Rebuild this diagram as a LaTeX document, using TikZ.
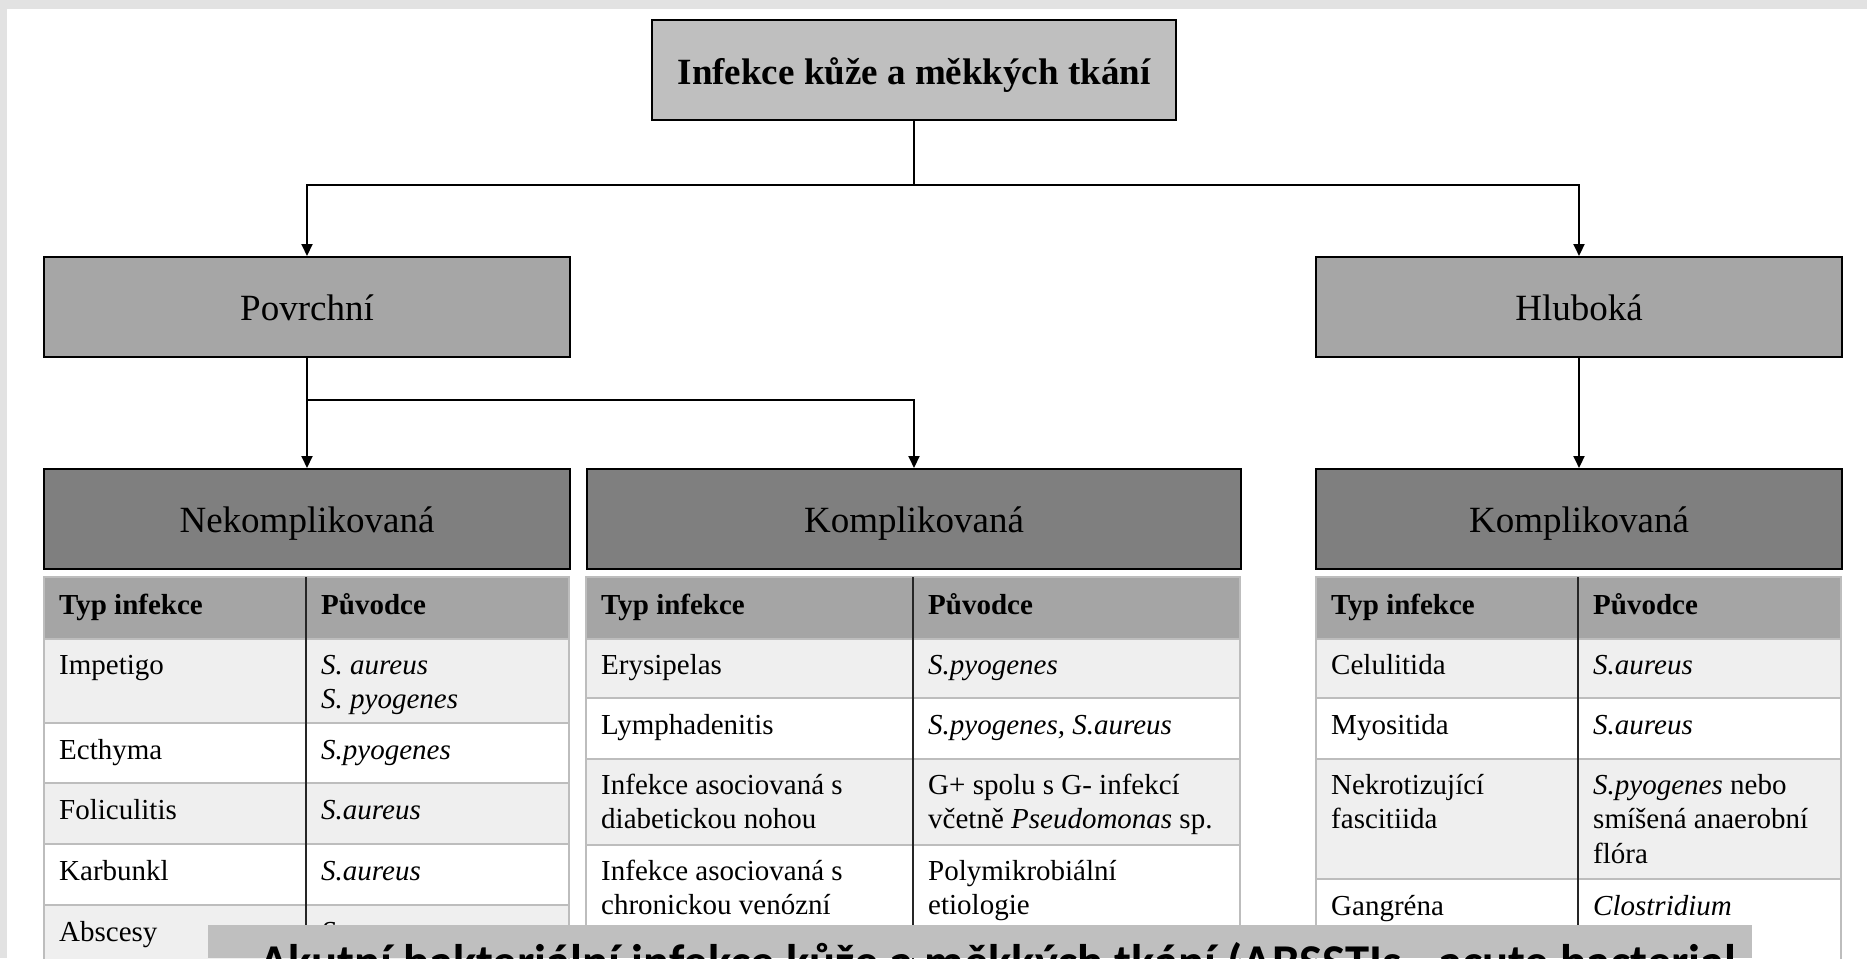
\documentclass[tikz,border=0pt]{standalone}
\usepackage{fontspec}
\setmainfont{Liberation Serif}
\newfontfamily\bannerfont{Carlito}
\usetikzlibrary{arrows.meta}
\definecolor{topgrey}{HTML}{BFBFBF}
\definecolor{midgrey}{HTML}{A6A6A6}
\definecolor{darkgrey}{HTML}{7F7F7F}
\definecolor{hdrgrey}{HTML}{A5A5A5}
\definecolor{rowgrey}{HTML}{EFEFEF}
\definecolor{linegrey}{HTML}{BDBDBD}
\definecolor{bggrey}{HTML}{E2E2E2}
\definecolor{bannergrey}{HTML}{BFBFBF}
\newcommand{\twol}[2]{\begin{tabular}[t]{@{}l@{}}#1\\#2\end{tabular}}
\newcommand{\threel}[3]{\begin{tabular}[t]{@{}l@{}}#1\\#2\\#3\end{tabular}}
\tikzset{
 box/.style={draw=black, line width=2pt, inner sep=0pt, minimum height=100pt, text height=33pt, text depth=7pt, font=\fontsize{37}{44}\selectfont},
 topbox/.style={box, fill=topgrey, minimum width=524pt, text height=34pt, text depth=6pt, font=\fontsize{37}{44}\selectfont\bfseries},
 levelbox/.style={box, fill=midgrey, minimum width=526pt},
 subbox/.style={box, fill=darkgrey},
 conn/.style={line width=2pt, draw=black},
 arr/.style={conn, -{Triangle[length=12pt,width=11pt]}},
 cell/.style={anchor=base west, inner sep=0pt, font=\fontsize{29}{34.5}\selectfont},
 hcell/.style={anchor=base west, inner sep=0pt, font=\fontsize{29}{34.5}\selectfont\bfseries},
 rowline/.style={draw=linegrey, line width=2pt},
 colline/.style={draw=black!85, line width=2pt},
}
\begin{document}
\begin{tikzpicture}[x=1pt,y=-1pt]
\useasboundingbox (0,0) rectangle (1867,958);
\fill[white] (0,0) rectangle (1867,958);
\fill[bggrey] (0,0) rectangle (1867,9);
\fill[bggrey] (0,0) rectangle (7,958);

% boxes
\node[topbox] (root) at (914,70) {Infekce kůže a měkkých tkání};
\node[levelbox] (pov) at (307,307) {Povrchní};
\node[levelbox] (hlu) at (1579,307) {Hluboká};
\node[subbox, minimum width=526pt] (nek) at (307,519) {Nekomplikovaná};
\node[subbox, minimum width=654pt] (kom1) at (914,519) {Komplikovaná};
\node[subbox, minimum width=526pt] (kom2) at (1579,519) {Komplikovaná};

% connectors
\coordinate (j1) at (914,185);
\coordinate (j2) at (307,400);
\draw[conn] (root.south) -- (j1);
\draw[arr] (j1) -| (pov.north);
\draw[arr] (j1) -| (hlu.north);
\draw[arr] (pov.south) -- (nek.north);
\draw[arr] (j2) -| (kom1.north);
\draw[arr] (hlu.south) -- (kom2.north);

% left table
\fill[hdrgrey] (44,577) rectangle (569,639);
\fill[rowgrey] (44,639) rectangle (569,723);
\fill[white] (44,723) rectangle (569,783);
\fill[rowgrey] (44,783) rectangle (569,844);
\fill[white] (44,844) rectangle (569,905);
\fill[rowgrey] (44,905) rectangle (569,960);
\draw[rowline] (44,960) -- (44,577) -- (569,577) -- (569,960);
\foreach \yy in {639,723,783,844,905} \draw[rowline] (44,\yy) -- (569,\yy);
\draw[colline] (306,577) -- (306,960);
\node[hcell] (l0a) at (59,614) {Typ infekce};
\node[hcell] (l0b) at (321,614) {Původce};
\node[cell] (l1a) at (59,674) {Impetigo};
\node[cell] (l1b) at (321,674) {\twol{\textit{S. aureus}}{\textit{S. pyogenes}}};
\node[cell] (l2a) at (59,759) {Ecthyma};
\node[cell] (l2b) at (321,759) {\textit{S.pyogenes}};
\node[cell] (l3a) at (59,819) {Foliculitis};
\node[cell] (l3b) at (321,819) {\textit{S.aureus}};
\node[cell] (l4a) at (59,880) {Karbunkl};
\node[cell] (l4b) at (321,880) {\textit{S.aureus}};
\node[cell] (l5a) at (59,941) {Abscesy};
\node[cell] (l5b) at (321,941) {\textit{S.aureus}};

% middle table
\fill[hdrgrey] (586,577) rectangle (1240,639);
\fill[rowgrey] (586,639) rectangle (1240,698);
\fill[white] (586,698) rectangle (1240,759);
\fill[rowgrey] (586,759) rectangle (1240,845);
\fill[white] (586,845) rectangle (1240,960);
\draw[rowline] (586,960) -- (586,577) -- (1240,577) -- (1240,960);
\foreach \yy in {639,698,759,845} \draw[rowline] (586,\yy) -- (1240,\yy);
\draw[colline] (913,577) -- (913,960);
\node[hcell] (m0a) at (601,614) {Typ infekce};
\node[hcell] (m0b) at (928,614) {Původce};
\node[cell] (m1a) at (601,674) {Erysipelas};
\node[cell] (m1b) at (928,674) {\textit{S.pyogenes}};
\node[cell] (m2a) at (601,734) {Lymphadenitis};
\node[cell] (m2b) at (928,734) {\textit{S.pyogenes, S.aureus}};
\node[cell] (m3a) at (601,794) {\twol{Infekce asociovaná s}{diabetickou nohou}};
\node[cell] (m3b) at (928,794) {\twol{G+ spolu s G- infekcí}{včetně \textit{Pseudomonas} sp.}};
\node[cell] (m4a) at (601,880) {\twol{Infekce asociovaná s}{chronickou venózní}};
\node[cell] (m4b) at (928,880) {\twol{Polymikrobiální}{etiologie}};

% right table
\fill[hdrgrey] (1316,577) rectangle (1841,639);
\fill[rowgrey] (1316,639) rectangle (1841,698);
\fill[white] (1316,698) rectangle (1841,759);
\fill[rowgrey] (1316,759) rectangle (1841,879);
\fill[white] (1316,879) rectangle (1841,960);
\draw[rowline] (1316,960) -- (1316,577) -- (1841,577) -- (1841,960);
\foreach \yy in {639,698,759,879} \draw[rowline] (1316,\yy) -- (1841,\yy);
\draw[colline] (1578,577) -- (1578,960);
\node[hcell] (r0a) at (1331,614) {Typ infekce};
\node[hcell] (r0b) at (1593,614) {Původce};
\node[cell] (r1a) at (1331,674) {Celulitida};
\node[cell] (r1b) at (1593,674) {\textit{S.aureus}};
\node[cell] (r2a) at (1331,734) {Myositida};
\node[cell] (r2b) at (1593,734) {\textit{S.aureus}};
\node[cell] (r3a) at (1331,794) {\twol{Nekrotizující}{fascitiida}};
\node[cell] (r3b) at (1593,794) {\threel{\textit{S.pyogenes} nebo}{smíšená anaerobní}{flóra}};
\node[cell] (r4a) at (1331,915) {Gangréna};
\node[cell] (r4b) at (1593,915) {\textit{Clostridium}};

% banner
\begin{scope}
\clip (208,925) rectangle (1752,958);
\fill[bannergrey] (208,925) rectangle (1752,958);
\node[anchor=base west, inner sep=0pt, font=\bannerfont\bfseries\fontsize{48.6}{58}\selectfont] (banner) at (259,978) {Akutní bakteriální infekce kůže a měkkých tkání (ABSSTIs - acute bacterial};
\end{scope}
\end{tikzpicture}
\end{document}
